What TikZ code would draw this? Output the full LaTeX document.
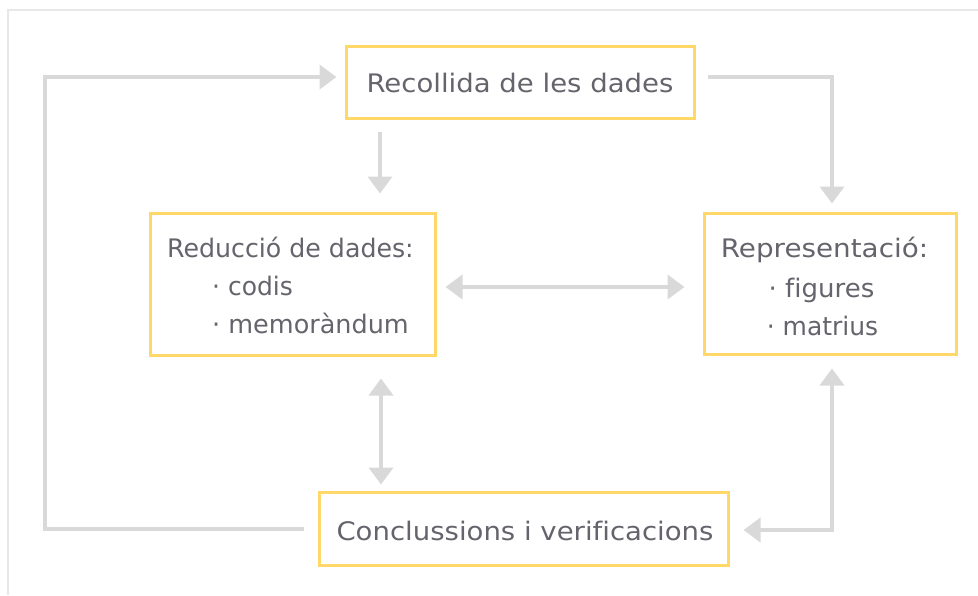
\documentclass[tikz,border=0pt]{standalone}
\usepackage{fontspec}
\setmainfont[Ligatures=NoCommon]{DejaVu Sans}
\usetikzlibrary{arrows.meta}
\definecolor{boxc}{RGB}{255,216,105}
\definecolor{arrc}{RGB}{217,217,217}
\definecolor{txtc}{RGB}{100,100,108}
\definecolor{framec}{RGB}{232,232,232}
\tikzset{
  box/.style={draw=boxc, line width=3pt, fill=white, inner sep=0pt},
  txt/.style={text=txtc, font=\fontsize{25.5}{30}\selectfont, inner sep=0pt},
  stretch/.style={execute at begin node={\addfontfeature{FakeStretch=#1}}},
  conn/.style={draw=arrc, line width=4pt},
  arr/.style={conn, -{Triangle[width=24pt,length=17pt]}},
  darr/.style={conn, {Triangle[width=24pt,length=17pt]}-{Triangle[width=24pt,length=17pt]}},
}
\begin{document}
\begin{tikzpicture}[x=1pt,y=-1pt]
\useasboundingbox (0,0) rectangle (978,595);
% frame
\draw[framec, line width=2pt] (8,595) -- (8,10) -- (978,10);
% boxes
\node[box, minimum width=348pt, minimum height=72pt] (rec) at (520,82) {};
\node[box, minimum width=285pt, minimum height=142pt] (red) at (292.5,284) {};
\node[box, minimum width=252pt, minimum height=141pt] (rep) at (830,283.5) {};
\node[box, minimum width=409pt, minimum height=73pt] (con) at (523.5,528.5) {};
% texts
\node[txt, stretch=1.08, anchor=base] (trec) at (520,92) {Recollida de les dades};
\node[txt, stretch=1.08, anchor=base] (tcon) at (525,540) {Conclussions i verificacions};
\node[txt, stretch=0.99, anchor=base west] (tred) at (167,257) {Reducció de dades:};
\node[txt, stretch=0.98, anchor=base west] (tred1) at (212,295) {· codis};
\node[txt, stretch=1.0, anchor=base west] (tred2) at (212,333) {· memoràndum};
\node[txt, stretch=1.09, anchor=base] (trep) at (824.5,257) {Representació:};
\node[txt, stretch=1.02, anchor=base] (trep1) at (821.5,297) {· figures};
\node[txt, stretch=0.98, anchor=base] (trep2) at (822.5,335) {· matrius};
% helper coordinates
\coordinate (lft) at (45,77);
\coordinate (rgt) at (832,77);
\coordinate (vx) at (380,0);
\coordinate (vy) at (381,0);
\coordinate (bot) at (832,530);
% connectors
\draw[arr, shorten <=14pt, shorten >=8pt] (con.west) -| (lft) -- (lft -| rec.west);
\draw[arr, shorten <=12pt, shorten >=8pt] (rec.east |- rgt) -| (rep.north -| rgt);
\draw[arr, shorten <=12pt, shorten >=18pt] (rec.south -| vx) -- (red.north -| vx);
\draw[darr, shorten <=9pt, shorten >=18pt] (red.east |- 0,287) -- (rep.west |- 0,287);
\draw[darr, shorten <=22pt, shorten >=6pt] (red.south -| vy) -- (con.north -| vy);
\draw[darr, shorten <=13pt, shorten >=14pt] (rep.south -| bot) |- (con.east |- bot);
\end{tikzpicture}
\end{document}
